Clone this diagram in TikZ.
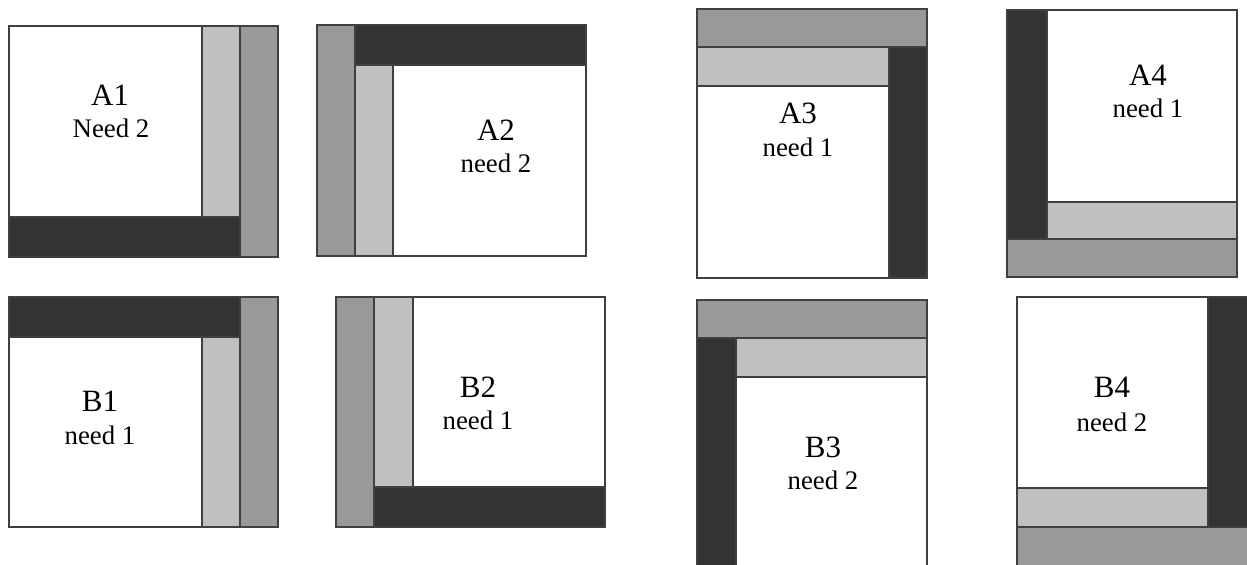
\documentclass[tikz,border=0pt]{standalone}
\usepackage{fontspec}
\setmainfont{Liberation Serif}
\usepackage{tikz}
\usetikzlibrary{positioning}

\definecolor{darkbar}{HTML}{333333}
\definecolor{midbar}{HTML}{999999}
\definecolor{lightbar}{HTML}{C0C0C0}
\definecolor{edge}{HTML}{404040}

\tikzset{
  dark/.style={fill=darkbar, draw=edge, line width=0.65pt},
  mid/.style={fill=midbar, draw=edge, line width=0.65pt},
  light/.style={fill=lightbar, draw=edge, line width=0.65pt},
  blank/.style={fill=white, draw=edge, line width=0.65pt},
  tilename/.style={font=\fontsize{15.5}{17}\selectfont, inner sep=0pt},
  tileneed/.style={font=\fontsize{13.4}{15}\selectfont, inner sep=0pt}
}

\begin{document}
\begin{tikzpicture}[x=0.5pt, y=-0.5pt]
  \useasboundingbox (0,0) rectangle (1247,564);
  \clip (0,0) rectangle (1247,564);

  % top row
  \draw[blank] (9,26) rectangle (202,217);
  \draw[light] (202,26) rectangle (240,217);
  \draw[dark] (9,217) rectangle (240,257);
  \draw[mid] (240,26) rectangle (278,257);
  \node[tilename] (A1) at (110,95) {A1};
  \node[tileneed] (A1n) at (111,128) {Need 2};

  \draw[mid] (317,25) rectangle (355,256);
  \draw[dark] (355,25) rectangle (586,65);
  \draw[light] (355,65) rectangle (393,256);
  \draw[blank] (393,65) rectangle (586,256);
  \node[tilename] (A2) at (496,130) {A2};
  \node[tileneed] (A2n) at (496,163) {need 2};

  \draw[mid] (697,9) rectangle (927,47);
  \draw[light] (697,47) rectangle (889,86);
  \draw[dark] (889,47) rectangle (927,278);
  \draw[blank] (697,86) rectangle (889,278);
  \node[tilename] (A3) at (798,113) {A3};
  \node[tileneed] (A3n) at (798,147) {need 1};

  \draw[dark] (1007,10) rectangle (1047,239);
  \draw[blank] (1047,10) rectangle (1237,202);
  \draw[light] (1047,202) rectangle (1237,239);
  \draw[mid] (1007,239) rectangle (1237,277);
  \node[tilename] (A4) at (1148,75) {A4};
  \node[tileneed] (A4n) at (1148,108) {need 1};

  % bottom row
  \draw[dark] (9,297) rectangle (240,337);
  \draw[blank] (9,337) rectangle (202,527);
  \draw[light] (202,337) rectangle (240,527);
  \draw[mid] (240,297) rectangle (278,527);
  \node[tilename] (B1) at (100,401) {B1};
  \node[tileneed] (B1n) at (100,435) {need 1};

  \draw[mid] (336,297) rectangle (374,527);
  \draw[light] (374,297) rectangle (413,487);
  \draw[blank] (413,297) rectangle (605,487);
  \draw[dark] (374,487) rectangle (605,527);
  \node[tilename] (B2) at (478,387) {B2};
  \node[tileneed] (B2n) at (478,420) {need 1};

  \draw[mid] (697,300) rectangle (927,338);
  \draw[dark] (697,338) rectangle (736,572);
  \draw[light] (736,338) rectangle (927,377);
  \draw[blank] (736,377) rectangle (927,572);
  \node[tilename] (B3) at (823,447) {B3};
  \node[tileneed] (B3n) at (823,480) {need 2};

  \draw[blank] (1017,297) rectangle (1208,488);
  \draw[light] (1017,488) rectangle (1208,527);
  \draw[dark] (1208,297) rectangle (1255,527);
  \draw[mid] (1017,527) rectangle (1255,572);
  \node[tilename] (B4) at (1112,387) {B4};
  \node[tileneed] (B4n) at (1112,422) {need 2};
\end{tikzpicture}
\end{document}
